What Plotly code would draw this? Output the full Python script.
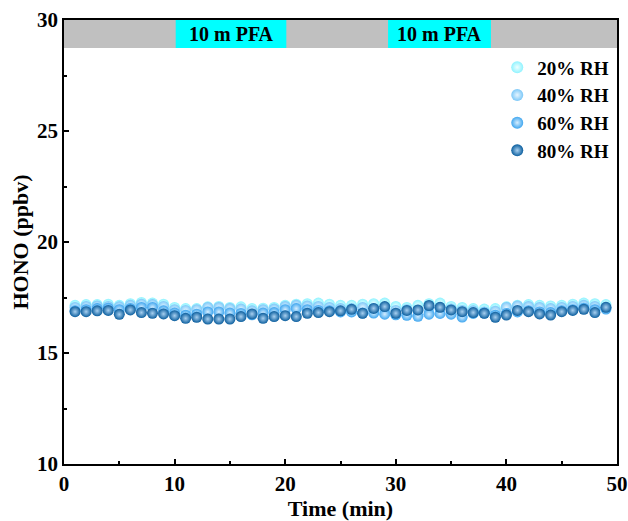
import plotly.graph_objects as go

time_min = list(range(1, 50))

rh20 = [17.15, 17.18, 17.18, 17.2, 17.15, 17.22, 17.28, 17.25, 17.2, 17.05, 17.0, 17.0, 17.08, 17.1, 17.05, 17.08, 17.0, 17.02, 17.05, 17.15, 17.2, 17.22, 17.25, 17.2, 17.15,
        17.15, 17.2, 17.22, 17.25, 17.1, 17.05, 17.15, 17.22, 17.25, 17.1, 17.05, 17.0, 16.98, 17.0, 17.08, 17.15, 17.18, 17.15, 17.12, 17.15, 17.2, 17.25, 17.22, 17.18]
rh40 = [17.05, 17.1, 17.12, 17.1, 17.08, 17.15, 17.2, 17.18, 17.1, 16.95, 16.92, 16.95, 17.05, 17.05, 17.0, 16.98, 16.9, 16.95, 16.98, 17.1, 17.15, 17.12, 17.1, 17.05, 17.0,
        17.0, 17.05, 17.0, 16.95, 16.92, 16.95, 16.9, 17.0, 17.05, 16.98, 16.92, 16.9, 16.85, 16.88, 17.05, 17.12, 17.1, 17.05, 17.0, 17.05, 17.1, 17.15, 17.1, 17.05]
rh60 = [16.9, 16.95, 17.0, 17.02, 16.95, 17.0, 17.05, 17.05, 16.9, 16.8, 16.7, 16.75, 16.85, 16.85, 16.8, 16.78, 16.72, 16.8, 16.82, 16.95, 17.0, 16.95, 16.92, 16.9, 16.85,
        16.85, 16.8, 16.8, 16.75, 16.72, 16.7, 16.65, 16.75, 16.78, 16.75, 16.62, 16.78, 16.8, 16.7, 16.78, 16.85, 16.9, 16.85, 16.82, 16.9, 16.95, 17.02, 16.95, 16.98]
rh80 = [16.86, 16.86, 16.9, 16.92, 16.74, 16.94, 16.82, 16.79, 16.76, 16.68, 16.56, 16.61, 16.53, 16.53, 16.53, 16.64, 16.76, 16.56, 16.64, 16.68, 16.64, 16.79, 16.82, 16.86, 16.9,
        16.97, 16.79, 17.01, 17.09, 16.79, 16.92, 16.94, 17.14, 17.06, 16.94, 16.86, 16.82, 16.79, 16.61, 16.71, 16.92, 16.86, 16.76, 16.71, 16.86, 16.92, 16.97, 16.82, 17.06]

series_names = ["20% RH", "40% RH", "60% RH", "80% RH"]
series_values = [rh20, rh40, rh60, rh80]
series_colors = ["#8ff3ff", "#7cc8f8", "#3fa6ef", "#0b5e9e"]
highlight = ["#f0ffff", "#e6f5ff", "#d6eeff", "#a8d0f0"]

pfa_periods = [(10.1, 20.1), (29.3, 38.6)]
pfa_label = "10 m PFA"
band_range = (28.74, 30)

font_family = "Liberation Serif, Times New Roman, serif"

fig = go.Figure()
for name, vals, col, hl in zip(series_names, series_values, series_colors, highlight):
    fig.add_trace(go.Scatter(
        x=time_min, y=vals, mode="markers", name="<b>" + name + "</b>",
        marker=dict(size=11, color=col, line=dict(width=0),
                    gradient=dict(type="radial", color=hl)),
    ))

shapes = [dict(type="rect", xref="x", yref="y", x0=0, x1=50, y0=band_range[0], y1=band_range[1],
               fillcolor="#c0c0c0", line=dict(width=0), layer="below")]
annotations = []
for (a, b) in pfa_periods:
    shapes.append(dict(type="rect", xref="x", yref="y", x0=a, x1=b, y0=band_range[0], y1=band_range[1],
                       fillcolor="#00ffff", line=dict(width=0), layer="below"))
    annotations.append(dict(x=(a + b) / 2, y=(band_range[0] + band_range[1]) / 2, xref="x", yref="y",
                            text="<b>" + pfa_label + "</b>", showarrow=False,
                            font=dict(family=font_family, size=20, color="black")))

axis_common = dict(showline=True, linecolor="black", linewidth=1.5, mirror=True,
                   ticks="inside", ticklen=5, tickwidth=1.5, tickcolor="black",
                   showgrid=False, zeroline=False, automargin=False,
                   tickfont=dict(family=font_family, size=21, color="black"))

fig.update_layout(
    width=628, height=521,
    margin=dict(l=64, r=11, t=20, b=57),
    paper_bgcolor="white", plot_bgcolor="white",
    shapes=shapes, annotations=annotations,
    xaxis=dict(range=[0, 50], dtick=10, tickprefix="<b>", ticksuffix="</b>",
               minor=dict(dtick=5, ticks="inside", ticklen=3, tickwidth=1.5, tickcolor="black"),
               title=dict(text="<b>Time (min)</b>", font=dict(family=font_family, size=22, color="black"), standoff=4),
               **axis_common),
    yaxis=dict(range=[10, 30], dtick=5, tickprefix="<b>", ticksuffix="</b>",
               minor=dict(dtick=2.5, ticks="inside", ticklen=3, tickwidth=1.5, tickcolor="black"),
               title=dict(text="<b>HONO (ppbv)</b>", font=dict(family=font_family, size=22, color="black"), standoff=2),
               **axis_common),
    legend=dict(x=0.995, y=0.936, xanchor="right", yanchor="top", bgcolor="rgba(0,0,0,0)",
                font=dict(family=font_family, size=19, color="black"), itemsizing="constant",
                tracegroupgap=0),
    showlegend=True,
)

fig.write_html("out.html")
